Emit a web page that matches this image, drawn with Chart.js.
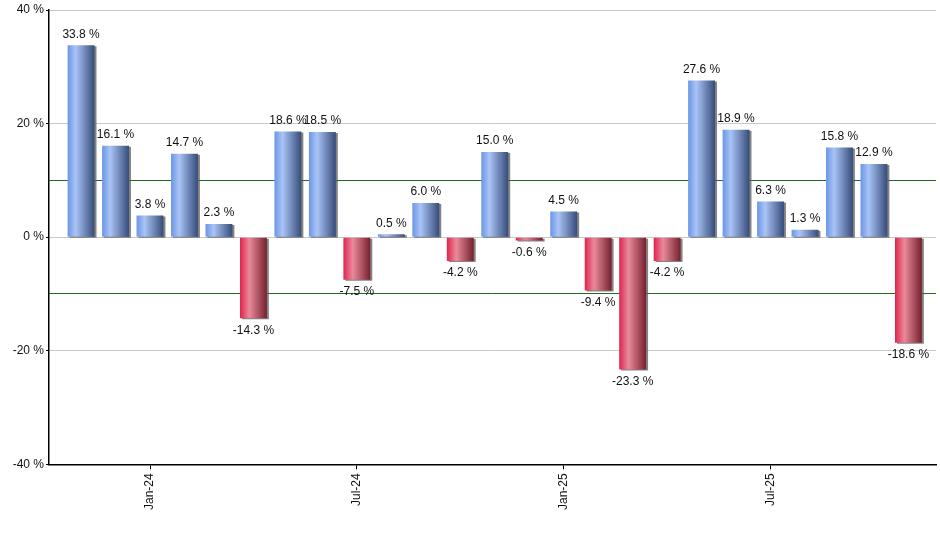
<!DOCTYPE html>
<html>
<head>
<meta charset="utf-8">
<script src="https://cdn.jsdelivr.net/npm/chart.js@4/dist/chart.umd.min.js"></script>
<style>
  html, body { margin: 0; padding: 0; background: #ffffff; }
  #wrap { width: 940px; height: 550px; }
</style>
</head>
<body>
<div id="wrap"><canvas id="chart"></canvas></div>
<script>
// monthly returns, Nov-23 .. Nov-25
var months = ['Nov-23', 'Dec-23', 'Jan-24', 'Feb-24', 'Mar-24', 'Apr-24', 'May-24', 'Jun-24',
  'Jul-24', 'Aug-24', 'Sep-24', 'Oct-24', 'Nov-24', 'Dec-24', 'Jan-25', 'Feb-25', 'Mar-25',
  'Apr-25', 'May-25', 'Jun-25', 'Jul-25', 'Aug-25', 'Sep-25', 'Oct-25', 'Nov-25'];
var returns = [33.8, 16.1, 3.8, 14.7, 2.3, -14.3, 18.6, 18.5, -7.5, 0.5, 6.0, -4.2, 15.0, -0.6,
  4.5, -9.4, -23.3, -4.2, 27.6, 18.9, 6.3, 1.3, 15.8, 12.9, -18.6];
var shownMonths = ['Jan-24', 'Jul-24', 'Jan-25', 'Jul-25'];
var yTicks = [-40, -20, 0, 20, 40];

var FONT = 'Liberation Sans, Arial, sans-serif';
var BAR_PCT = 0.78;

function makeGradient(c, left, right, positive) {
  var g = c.createLinearGradient(left, 0, right, 0);
  if (positive) {
    g.addColorStop(0, '#6b95e6');
    g.addColorStop(0.3, '#a9c4f6');
    g.addColorStop(1, '#364c7a');
  } else {
    g.addColorStop(0, '#e0234d');
    g.addColorStop(0.35, '#e98a9b');
    g.addColorStop(1, '#76202d');
  }
  return g;
}

// horizontal gradient per bar + gray drop shadow
var barStylePlugin = {
  id: 'barStyle',
  beforeDatasetsDraw: function (chart) {
    var c = chart.ctx;
    chart.getDatasetMeta(0).data.forEach(function (bar, i) {
      if (isFinite(bar.x) && isFinite(bar.width)) {
        bar.options.backgroundColor = makeGradient(c, bar.x - bar.width / 2, bar.x + bar.width / 2, returns[i] >= 0);
      }
    });
    c.save();
    c.shadowColor = 'rgba(90,90,90,0.75)';
    c.shadowOffsetX = 2;
    c.shadowOffsetY = 1;
    c.shadowBlur = 0;
  },
  afterDatasetsDraw: function (chart) {
    chart.ctx.restore();
  }
};

// value labels above / below each bar
var labelPlugin = {
  id: 'valueLabels',
  afterDraw: function (chart) {
    var c = chart.ctx;
    var meta = chart.getDatasetMeta(0);
    c.save();
    c.font = '12px ' + FONT;
    c.fillStyle = '#111111';
    c.textAlign = 'center';
    meta.data.forEach(function (bar, i) {
      var v = returns[i];
      var txt = v.toFixed(1) + ' %';
      if (v >= 0) {
        c.textBaseline = 'bottom';
        c.fillText(txt, bar.x, bar.y - 5);
      } else {
        c.textBaseline = 'top';
        c.fillText(txt, bar.x, bar.y + 6);
      }
    });
    c.restore();
  }
};

var chart = new Chart(document.getElementById('chart'), {
  type: 'bar',
  data: {
    datasets: [{
      data: returns.map(function (v, i) { return { x: i, y: v }; }),
      backgroundColor: function (ctx) { return returns[ctx.dataIndex] >= 0 ? '#7da0e8' : '#d0405f'; },
      borderWidth: 0,
      barPercentage: BAR_PCT,
      categoryPercentage: 1.0
    }]
  },
  options: {
    responsive: true,
    maintainAspectRatio: false,
    animation: false,
    layout: { padding: { top: 10, right: 4, left: 0, bottom: 36 } },
    plugins: {
      legend: { display: false },
      tooltip: { enabled: false }
    },
    scales: {
      x: {
        type: 'linear',
        min: -0.93,
        max: 24.8,
        offset: false,
        afterBuildTicks: function (axis) {
          axis.ticks = shownMonths.map(function (m) { return { value: months.indexOf(m) }; });
        },
        ticks: {
          autoSkip: false,
          minRotation: 90,
          maxRotation: 90,
          padding: 4,
          color: '#111111',
          font: { family: FONT, size: 12 },
          callback: function (v) { return months[v]; }
        },
        grid: {
          display: true,
          offset: false,
          drawOnChartArea: false,
          drawTicks: true,
          tickLength: 5,
          color: '#000000'
        },
        border: { display: true, color: '#000000', width: 1.5 }
      },
      y: {
        min: -40,
        max: 40,
        afterBuildTicks: function (axis) {
          axis.ticks = [-40, -30, -20, -10, 0, 10, 20, 30, 40].map(function (v) { return { value: v }; });
        },
        afterFit: function (axis) { axis.width = 49; },
        ticks: {
          autoSkip: false,
          padding: 2,
          color: '#111111',
          font: { family: FONT, size: 12 },
          callback: function (v) { return yTicks.indexOf(v) >= 0 ? v + ' %' : ''; }
        },
        grid: {
          drawTicks: true,
          tickLength: 3,
          lineWidth: function (ctx) {
            var v = ctx.tick ? ctx.tick.value : 0;
            if (v === 30 || v === -30) return 0;
            return 1;
          },
          color: function (ctx) {
            var v = ctx.tick ? ctx.tick.value : 0;
            if (v === 10 || v === -10) return '#1f6b1f';
            return '#c8c8c8';
          },
          tickColor: function (ctx) {
            var v = ctx.tick ? ctx.tick.value : 0;
            return yTicks.indexOf(v) >= 0 ? '#000000' : 'rgba(0,0,0,0)';
          }
        },
        border: { display: true, color: '#000000', width: 1.5 }
      }
    }
  },
  plugins: [barStylePlugin, labelPlugin]
});
</script>
</body>
</html>
